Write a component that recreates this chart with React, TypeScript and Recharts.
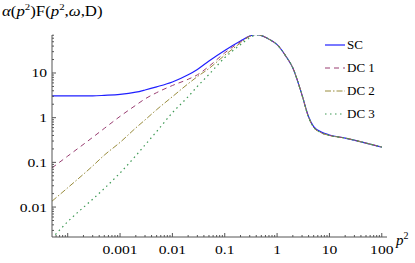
import React from 'react';
import { LineChart, Line, XAxis, YAxis } from 'recharts';

// p^2 sample points and alpha(p^2)F(p^2,w,D)
const p2 = [0.00005, 0.0001, 0.0003, 0.0005, 0.001, 0.002, 0.003, 0.005, 0.01, 0.02, 0.03, 0.05, 0.1, 0.2, 0.3, 0.4, 0.55, 0.7, 1, 1.5, 2, 3, 4, 5, 7, 10, 20, 50, 100];
const sc = [3.09, 3.09, 3.09, 3.16, 3.31, 3.72, 4.17, 4.9, 6.3, 9.1, 12.0, 18.6, 32, 52, 67, 73, 66, 57, 43, 23, 13, 3.2, 1.05, 0.63, 0.48, 0.41, 0.35, 0.27, 0.22];
const dc1 = [0.075, 0.138, 0.363, 0.575, 1.07, 1.9, 2.63, 3.63, 5.25, 7.24, 9.1, 14.1, 28.2, 50, 67, 73, 66, 57, 43, 23, 13, 3.2, 1.02, 0.61, 0.46, 0.4, 0.35, 0.27, 0.22];
const dc2 = [0.0135, 0.027, 0.083, 0.145, 0.28, 0.59, 0.89, 1.51, 2.95, 5.75, 8.3, 12.6, 25, 47, 66, 73, 66, 57, 43, 23, 13, 3.2, 1.02, 0.61, 0.46, 0.4, 0.35, 0.27, 0.22];
const dc3 = [0.002, 0.0047, 0.015, 0.026, 0.058, 0.141, 0.245, 0.49, 1.29, 2.95, 5.0, 9.3, 22, 43, 61, 71, 66, 57, 43, 23, 13, 3.2, 1.02, 0.61, 0.46, 0.4, 0.35, 0.27, 0.22];

const xMajor = [0.0001, 0.001, 0.01, 0.1, 1, 10, 100];
const xLabels = ['', '0.001', '0.01', '0.1', '1', '10', '100'];
const yMajor = [0.01, 0.1, 1, 10];
const yLabels = ['0.01', '0.1', '1', '10'];

const series = [
  { key: 'sc', name: 'SC', color: '#1f1fff', dash: undefined, width: 1.2 },
  { key: 'dc1', name: 'DC 1', color: '#993d71', dash: '5 4', width: 1 },
  { key: 'dc2', name: 'DC 2', color: '#998c3d', dash: '6 2 1.5 2', width: 1 },
  { key: 'dc3', name: 'DC 3', color: '#3d9954', dash: '1.5 3.5', width: 1.2 },
];

const X_DOMAIN: [number, number] = [-4.3, 2.1];
const Y_DOMAIN: [number, number] = [-2.67, 1.85];
const FONT = '"Liberation Serif", "Times New Roman", serif';

const data = p2.map((p, i) => ({
  lx: Math.log10(p),
  sc: Math.log10(sc[i]),
  dc1: Math.log10(dc1[i]),
  dc2: Math.log10(dc2[i]),
  dc3: Math.log10(dc3[i]),
}));

const logTicks = (majors: number[], domain: [number, number]) => {
  const out: number[] = [];
  const all = [majors[0] / 10, ...majors];
  all.forEach(m => {
    for (let k = 1; k <= 9; k++) {
      const v = Math.log10(m * k);
      if (v >= domain[0] - 1e-9 && v <= domain[1] + 1e-9 && !out.some(o => Math.abs(o - v) < 1e-6)) out.push(v);
    }
  });
  return out.sort((a, b) => a - b);
};

const xTicks = logTicks(xMajor, X_DOMAIN);
const yTicks = logTicks(yMajor, Y_DOMAIN);

const majorIndex = (majors: number[], v: number) => majors.findIndex(m => Math.abs(Math.log10(m) - v) < 1e-6);

const labelStyle = { fontFamily: FONT, fontSize: 13, fill: '#000' };

const XTick = (props: any) => {
  const { x, y, payload } = props;
  const i = majorIndex(xMajor, payload.value);
  const len = i >= 0 ? 4 : 2;
  return (
    <g>
      <line x1={x} x2={x} y1={y} y2={y - len} stroke="#555" strokeWidth={1} />
      {i >= 0 && xLabels[i] && (
        <text transform={`translate(${x},${y + 17}) scale(1.2,1)`} textAnchor="middle" style={labelStyle}>
          {xLabels[i]}
        </text>
      )}
    </g>
  );
};

const YTick = (props: any) => {
  const { x, y, payload } = props;
  const i = majorIndex(yMajor, payload.value);
  const len = i >= 0 ? 4 : 2;
  return (
    <g>
      <line x1={x} x2={x + len} y1={y} y2={y} stroke="#555" strokeWidth={1} />
      {i >= 0 && (
        <text transform={`translate(${x - 5},${y + 4.5}) scale(1.2,1)`} textAnchor="end" style={labelStyle}>
          {yLabels[i]}
        </text>
      )}
    </g>
  );
};

const LegendBox = () => (
  <div style={{ position: 'absolute', left: 325, top: 33, fontFamily: FONT, fontSize: 13 }}>
    {series.map(s => (
      <div key={s.key} style={{ display: 'flex', alignItems: 'center', height: 23 }}>
        <svg width={22} height={10}>
          <line x1={0} x2={20} y1={5} y2={5} stroke={s.color} strokeWidth={s.width} strokeDasharray={s.dash} />
        </svg>
        <span>{s.name}</span>
      </div>
    ))}
  </div>
);

export default function App() {
  return (
    <div style={{ position: 'absolute', left: 0, top: 0, width: 415, height: 263, background: '#fff' }}>
      <LineChart width={415} height={263} data={data} margin={{ top: 35, right: 28, bottom: 0, left: 0 }}>
        <XAxis
          dataKey="lx"
          type="number"
          domain={X_DOMAIN}
          allowDataOverflow
          ticks={xTicks}
          interval={0}
          tick={<XTick />}
          tickLine={false}
          tickSize={0}
          tickMargin={0}
          height={26}
          stroke="#555"
        />
        <YAxis
          type="number"
          domain={Y_DOMAIN}
          allowDataOverflow
          ticks={yTicks}
          interval={0}
          tick={<YTick />}
          tickLine={false}
          tickSize={0}
          tickMargin={0}
          width={52}
          stroke="#555"
        />
        {series.map(s => (
          <Line
            key={s.key}
            dataKey={s.key}
            name={s.name}
            type="monotone"
            stroke={s.color}
            strokeWidth={s.width}
            strokeDasharray={s.dash}
            dot={false}
            isAnimationActive={false}
          />
        ))}
      </LineChart>
      <LegendBox />
      <div style={{ position: 'absolute', left: 2, top: 2, fontFamily: FONT, fontSize: 14, whiteSpace: 'nowrap', transform: 'scale(1.2,1)', transformOrigin: 'left top' }}>
        <i>α</i>(<i>p</i><sup style={{ fontSize: 9 }}>2</sup>)F(<i>p</i><sup style={{ fontSize: 9 }}>2</sup>,<i>ω</i>,D)
      </div>
      <div style={{ position: 'absolute', left: 396, top: 230, fontFamily: FONT, fontSize: 15, whiteSpace: 'nowrap' }}>
        <i>p</i><sup style={{ fontSize: 10 }}>2</sup>
      </div>
    </div>
  );
}
